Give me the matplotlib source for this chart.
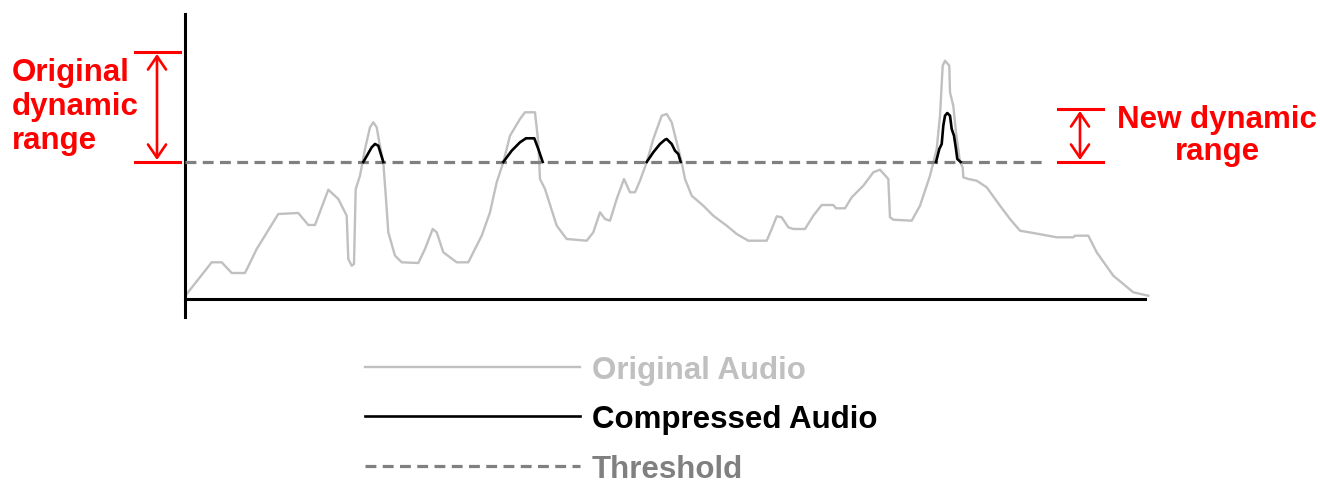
import matplotlib
matplotlib.use("Agg")
import matplotlib.pyplot as plt
import numpy as np

# original audio envelope (time, level)
orig_t = [1.7, 26.7, 36.7, 46.7, 60, 71.7, 93.3, 113.3, 123.3, 130, 143.3, 153.3, 161.7,
          163.3, 166.7, 169, 170.7, 175, 180, 185, 188.3, 191.7, 194.3, 198.3, 201, 203.3,
          210, 216.7, 233.3, 240, 247.7, 251.7, 258.3, 271.7, 283.3, 296.7, 305, 311.7,
          318.3, 325, 335, 340, 350, 353.3, 355, 360, 371.7, 381.7, 401.7, 408.3, 415, 420,
          425, 431.7, 439, 445, 450, 455, 461.7, 468.3, 476.7, 481.7, 486.7, 491.7, 496.7,
          500, 506.7, 518.3, 528.3, 541.7, 551.7, 563.3, 581.7, 586.7, 591.7, 596.7, 603.3,
          608.3, 620, 628.3, 636.7, 648.3, 651, 660, 666.7, 678.3, 688.3, 695, 703.3, 705,
          708.3, 726.7, 735, 745, 751.7, 755, 757.7, 760, 764.3, 765, 768.3, 771, 775,
          777.7, 778.3, 783.3, 791.7, 801.7, 815, 825, 835, 848.3, 871.7, 888.3, 890, 903.3,
          911.7, 928.3, 948.3, 963.3]
orig_v = [5, 36.7, 36.7, 26, 26, 50, 85, 86, 74, 74, 109.3, 100, 83.3,
          40, 33.3, 35, 110, 123.3, 150, 171.7, 176.7, 171.7, 156.7, 136.7, 100, 66.7,
          43.3, 36.7, 36, 50, 70, 66.7, 46.7, 36.7, 36.7, 63.3, 86.7, 116.7,
          136.7, 163.3, 180, 186.7, 186.7, 156.7, 120, 110, 73.3, 60, 58.3, 66.7, 86.7, 80,
          78.3, 100, 120, 106.7, 106.7, 118.3, 136.7, 160, 183.3, 185, 176.7, 156.7, 136.7,
          120, 103.3, 93.3, 83.3, 73.3, 65, 58.3, 58.3, 70, 82.7, 81.7, 71.7,
          70, 70, 83.3, 94, 94, 90.7, 90.7, 101.7, 113.3, 126.7, 129.3, 120, 81.7,
          79.3, 78.3, 93.3, 123.3, 150, 183.3, 233.3, 238.3, 233.3, 206.7, 193.3, 166.7, 136.7,
          131.7, 121.7, 120, 118.3, 111.7, 93.3, 80, 68.3, 66, 61.7, 61.7, 63.3, 63.3,
          46.7, 23.3, 6.7, 3.3]

# compressed peaks above threshold
comp_peaks = [
    ([178.3, 186.7, 190, 193.3, 198.3], [137, 151.7, 155, 153.3, 137]),
    ([318.3, 326.7, 335, 341, 349.3, 353.3, 357.7], [137, 148.3, 156.7, 160.7, 160.7, 150, 137]),
    ([461.7, 468.3, 475, 480, 481.7, 486.7, 490, 493.3, 495.7],
     [137, 146.7, 155, 159.3, 160, 155, 148.3, 145, 137]),
    ([751, 754.3, 756.7, 758.3, 760, 762.3, 765, 766.7, 769, 771, 772.3, 775.7],
     [137, 150, 155, 173.3, 183.3, 186, 183.3, 170, 163.3, 150, 140, 137]),
]

threshold = 137
threshold_end = 858
orig_range = (137, 247)
new_range = (137, 190)

RED = "#ff0000"
FONT = {"family": "Liberation Sans", "weight": "bold", "size": 22.5}

fig = plt.figure(figsize=(13.2, 4.85), dpi=100)
ax = fig.add_axes([185 / 1320, (485 - 318) / 485, 970 / 1320, 303 / 485])
ax.set_xlim(0, 970)
ax.set_ylim(-18, 285)

l_orig, = ax.plot(orig_t, orig_v, color="#c0c0c0", lw=1.7, clip_on=False,
                  label="Original Audio")
for i, (t, v) in enumerate(comp_peaks):
    l = ax.plot(t, v, color="black", lw=1.9, solid_joinstyle="round", zorder=4,
                label="Compressed Audio" if i == 0 else None)[0]
    if i == 0:
        l_comp = l
l_thr, = ax.plot([0, threshold_end], [threshold, threshold], color="#808080", lw=2.3,
                 dashes=(3.4, 2.0), zorder=3, label="Threshold")

for s in ["top", "right"]:
    ax.spines[s].set_visible(False)
ax.spines["bottom"].set_position(("data", 0))
ax.spines["bottom"].set_bounds(0, 960)
for s in ["left", "bottom"]:
    ax.spines[s].set_linewidth(2.2)
ax.set_xticks([])
ax.set_yticks([])

# range markers
def range_marker(x0, x1, xa, lo, hi):
    for yv in (lo, hi):
        ax.plot([x0, x1], [yv, yv], color=RED, lw=2.2, clip_on=False)
    ax.annotate("", xy=(xa, hi - 2), xytext=(xa, lo + 2), annotation_clip=False,
                arrowprops=dict(arrowstyle="<->,head_length=0.38,head_width=0.26",
                                mutation_scale=25, color=RED, lw=1.9,
                                shrinkA=0, shrinkB=0))

range_marker(-50, -5, -28, *orig_range)
range_marker(873, 918, 895, *new_range)

ax.text(-173, 193, "Original\ndynamic\nrange", color=RED, ha="left", va="center",
        multialignment="left", linespacing=1.17, fontdict=FONT, clip_on=False)
ax.text(1032, 164, "New dynamic\nrange", color=RED, ha="center", va="center",
        multialignment="center", linespacing=1.1, fontdict=FONT, clip_on=False)

fig.legend(handles=[l_orig, l_comp, l_thr], loc="upper left",
           bbox_to_anchor=(365 / 1320, (485 - 356) / 485), frameon=False,
           prop=FONT, labelcolor="linecolor", handlelength=6.88, handletextpad=0.38,
           labelspacing=0.62, borderpad=0, borderaxespad=0)

fig.savefig("out.png", dpi=100)
